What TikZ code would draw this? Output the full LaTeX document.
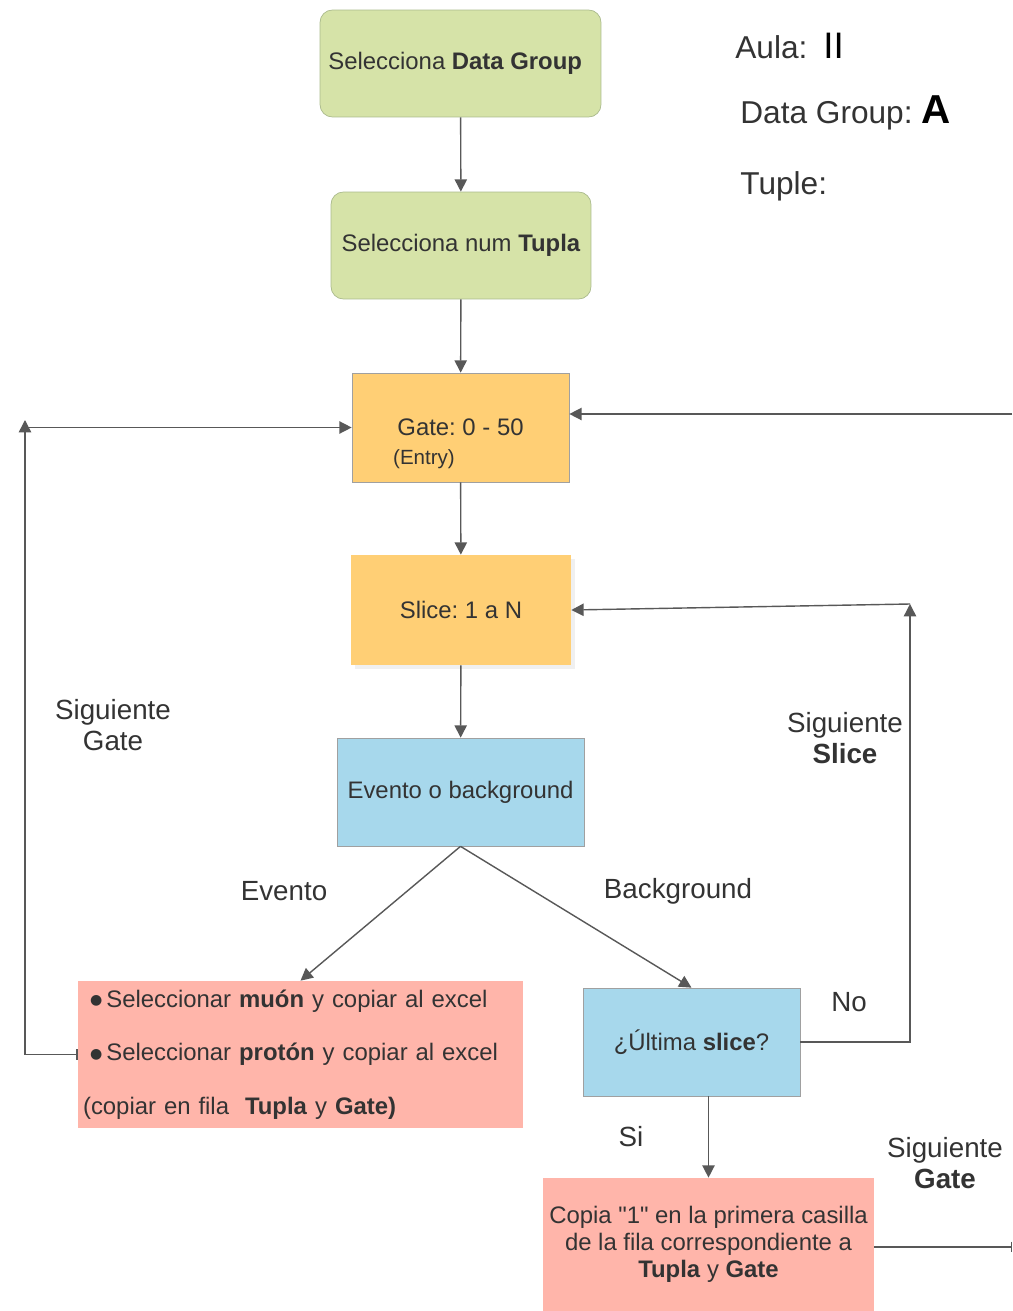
\documentclass[tikz,border=0pt]{standalone}
\usepackage{fontspec}
\setmainfont{Liberation Sans}[Ligatures=TeXOff]
\newfontfamily\dotfont{DejaVu Sans}
\usetikzlibrary{arrows.meta, positioning, shadows}
\frenchspacing

\definecolor{dgGreen}{RGB}{214,227,168}
\definecolor{dgGreenLine}{RGB}{170,186,140}
\definecolor{gateOrange}{RGB}{255,207,117}
\definecolor{evBlue}{RGB}{167,216,236}
\definecolor{cpPink}{RGB}{255,181,170}
\definecolor{edgeGray}{RGB}{160,160,160}
\definecolor{lineGray}{RGB}{88,88,88}
\definecolor{txtGray}{RGB}{51,51,51}

\newcommand{\bulletdot}{\raisebox{1.5pt}{\dotfont\fontsize{8}{8}\selectfont ●}}

\begin{document}
\begin{tikzpicture}[
  x=0.02cm, y=-0.02cm,
  every node/.style={font=\fontsize{13.6}{16}\selectfont, text=txtGray},
  box/.style={inner sep=2pt, align=center},
  sel/.style={box, fill=dgGreen, draw=dgGreenLine, rounded corners=7pt,
              minimum height=2.14cm},
  gt/.style= {box, fill=gateOrange, minimum height=2.2cm},
  ev/.style= {box, fill=evBlue, draw=edgeGray, minimum height=2.16cm},
  cp/.style= {box, fill=cpPink},
  lbl/.style={font=\fontsize{15.8}{17.6}\selectfont, align=center},
  hdr/.style={font=\fontsize{18}{20}\selectfont, anchor=west, inner sep=0pt},
  arr/.style={-{Triangle[length=7pt,width=7pt]}, line width=0.8pt, draw=lineGray},
  bar/.style={line width=0.8pt, draw=lineGray}
]
\useasboundingbox (0,0) rectangle (1012,1311);

%% ---- SELECTION (top) ------------------------------------------
\node[sel, minimum width=5.62cm] (dgroup) at (460.5,63.5)
  {Selecciona \textbf{Data Group}\hspace{6pt}};
\node[sel, minimum width=5.2cm]  (tupla)  at (461,245.5)
  {Selecciona num \textbf{Tupla}};

\draw[arr] (dgroup) -- (tupla);

%% ---- GATE / SLICE ---------------------------------------------
\node[gt, draw=edgeGray, minimum width=4.34cm, minimum height=2.18cm]
  (gate) at (460.5,427.5) {Gate: 0 - 50};
\node[font=\fontsize{11.7}{13}\selectfont, inner sep=0pt] (entry)
  at (424,459) {(Entry)};
\node[gt, minimum width=4.4cm,
      drop shadow={opacity=0.12, shadow xshift=2pt, shadow yshift=-2pt}]
  (slice) at (461,610) {Slice: 1 a N};

\draw[arr] (tupla) -- (gate);
\draw[arr] (gate)  -- (slice);

%% ---- DECISION -------------------------------------------------
\node[ev, minimum width=4.94cm] (evento) at (460.5,792) {Evento o background};
\draw[arr] (slice) -- (evento);

\node[cp, minimum width=8.9cm, minimum height=2.94cm, inner xsep=0.1cm,
      text width=8.7cm, align=left,
      font=\fontsize{13.6}{30.6}\selectfont]
  (copiar) at (300.5,1054.5)
  {\hspace{4pt}\bulletdot\,Seleccionar \textbf{muón} y copiar al excel\\
   \hspace{4pt}\bulletdot\,Seleccionar \textbf{protón} y copiar al excel\\
   (copiar en fila\ \ \textbf{Tupla} y \textbf{Gate)}};
\node[ev, minimum width=4.34cm] (ultima) at (691.5,1042)
  {¿Última \textbf{slice}?};

\draw[arr] (evento.south) -- (copiar.north);
\draw[arr] (evento.south) -- (ultima.north);
\node[lbl] (evlbl) at (284,891) {Evento};
\node[lbl] (bglbl) at (678,891) {Background};

%% ---- LAST SLICE -> COPY ---------------------------------------
\node[cp, minimum width=6.62cm, minimum height=2.66cm,
      font=\fontsize{13.6}{15.3}\selectfont]
  (copia) at (708.5,1244.5)
  {Copia "1" en la primera casilla\\de la fila correspondiente a\\
   \textbf{Tupla} y \textbf{Gate}};

\draw[arr] (copia.north |- ultima.south) -- (copia.north);
\node[lbl] (silbl) at (631,1137) {Si};

%% ---- LOOPS ----------------------------------------------------
\coordinate (sR) at (910,604);
\draw[arr] (ultima.east) -| (sR);
\draw[arr] (sR) -- (slice.east);
\node[lbl] (nolbl) at (849,1002) {No};
\node[lbl] (sslbl) at (845,738) {Siguiente\\\textbf{Slice}};

\coordinate (gL) at (25,420);
\draw[arr, {Bar[width=6pt]}-{Triangle[length=7pt,width=7pt]}]
  (copiar.west) -| (gL);
\draw[arr] (gL |- gate.west) -- (gate.west);
\node[lbl] (sglbl) at (113,725) {Siguiente\\Gate};

\coordinate (gR) at (1012,414);
\draw[arr] (gR) -- (gR -| gate.east);

\coordinate (cR) at (1012,1247);
\draw[bar, -{Bar[width=6pt]}] (copia.east |- cR) -- (cR);
\node[lbl] (sg2lbl) at (945,1163) {Siguiente\\\textbf{Gate}};

%% ---- HEADER ---------------------------------------------------
\node[hdr] (aula)  at (735,46)
  {Aula:\hspace{9pt}{\color{black}\fontsize{21}{21}\selectfont II}};
\node[hdr] (group) at (740,113)
  {Data Group: {\color{black}\fontsize{23}{23}\selectfont\bfseries A}};
\node[hdr] (tuple) at (740,186) {Tuple:};

\end{tikzpicture}
\end{document}
